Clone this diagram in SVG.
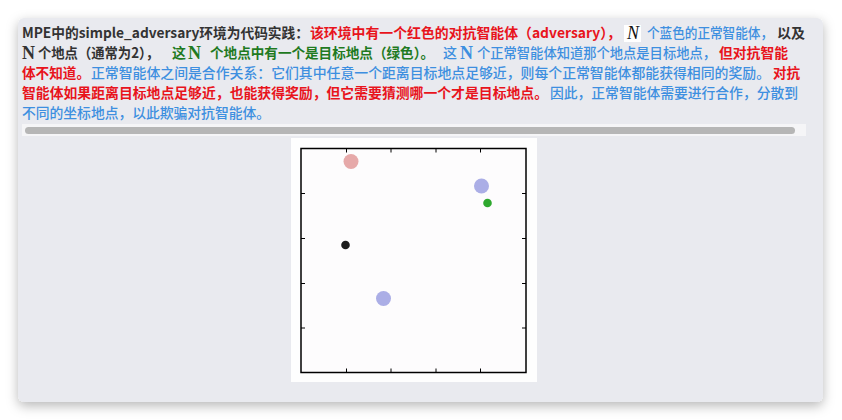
<svg xmlns="http://www.w3.org/2000/svg" width="842" height="420" viewBox="0 0 842 420">
<defs>
<filter id="sh" x="-10%" y="-10%" width="120%" height="130%">
<feDropShadow dx="0" dy="4" stdDeviation="6" flood-color="#000" flood-opacity="0.28"/>
</filter>
<clipPath id="tc"><rect x="18" y="18" width="789" height="110"/></clipPath>
<style>
.t{font-family:"Noto Sans CJK SC","Noto Sans",sans-serif;font-size:14px;}
.dk{fill:#333;font-weight:bold;}
.rd{fill:#e8141c;font-weight:bold;}
.gr{fill:#1f7a1f;font-weight:bold;}
.bl{fill:#3d8fe0;font-weight:500;}
.m{font-family:"Liberation Serif","DejaVu Serif",serif;font-size:18px;fill:#111;}
.mb{font-family:"Liberation Serif","DejaVu Serif",serif;font-size:18px;font-weight:bold;}
.tick{stroke:#000;stroke-width:1;}
</style>
</defs>
<rect width="842" height="420" fill="#fff"/>
<g id="card">
<rect x="18" y="18" width="805" height="384" rx="6" fill="#e9eaef" filter="url(#sh)"/>
</g>
<g id="text" clip-path="url(#tc)">
<text class="t dk" x="22" y="38" textLength="287" lengthAdjust="spacingAndGlyphs">MPE中的simple_adversary环境为代码实践：</text>
<text class="t rd" x="310" y="38" textLength="311" lengthAdjust="spacingAndGlyphs">该环境中有一个红色的对抗智能体（adversary），</text>
<rect x="624" y="25" width="17" height="17" fill="#fff"/>
<text class="m" x="627" y="39" font-style="italic">N</text>
<text class="t bl" x="647" y="38" textLength="126" lengthAdjust="spacingAndGlyphs">个蓝色的正常智能体，</text>
<text class="t dk" x="777" y="38" textLength="28" lengthAdjust="spacingAndGlyphs">以及</text>

<text class="mb" x="22" y="59" fill="#333">N</text>
<text class="t dk" x="38" y="58" textLength="121" lengthAdjust="spacingAndGlyphs">个地点（通常为2），</text>
<text class="t gr" x="172" y="58">这</text>
<text class="mb" x="188" y="59" fill="#1f7a1f">N</text>
<text class="t gr" x="210" y="58" textLength="224" lengthAdjust="spacingAndGlyphs">个地点中有一个是目标地点（绿色）。</text>
<text class="t bl" x="443" y="58">这</text>
<text class="mb" x="460" y="59" fill="#3d8fe0">N</text>
<text class="t bl" x="477" y="58" textLength="239" lengthAdjust="spacingAndGlyphs">个正常智能体知道那个地点是目标地点，</text>
<text class="t rd" x="719" y="58" textLength="69" lengthAdjust="spacingAndGlyphs">但对抗智能</text>

<text class="t rd" x="22" y="78" textLength="68" lengthAdjust="spacingAndGlyphs">体不知道。</text>
<text class="t bl" x="91" y="78" textLength="679" lengthAdjust="spacingAndGlyphs">正常智能体之间是合作关系：它们其中任意一个距离目标地点足够近，则每个正常智能体都能获得相同的奖励。</text>
<text class="t rd" x="773" y="78" textLength="27" lengthAdjust="spacingAndGlyphs">对抗</text>

<text class="t rd" x="22" y="98" textLength="526" lengthAdjust="spacingAndGlyphs">智能体如果距离目标地点足够近，也能获得奖励，但它需要猜测哪一个才是目标地点。</text>
<text class="t bl" x="550" y="98" textLength="248" lengthAdjust="spacingAndGlyphs">因此，正常智能体需要进行合作，分散到</text>

<text class="t bl" x="22" y="118" textLength="248" lengthAdjust="spacingAndGlyphs">不同的坐标地点，以此欺骗对抗智能体。</text>
</g>
<g id="scrollbar">
<rect x="22" y="124" width="784" height="12" fill="#f5f5f7"/>
<rect x="25" y="127" width="770" height="7" rx="3.5" fill="#b6b6b6"/>
</g>
<g id="plot">
<rect x="291" y="138" width="246" height="244" fill="#fefefe"/>
<rect x="301" y="148.5" width="225" height="224" fill="#fdfcfd" stroke="#000" stroke-width="1.5"/>
<g class="tick">
<line x1="346.5" y1="148.5" x2="346.5" y2="152.5"/><line x1="391" y1="148.5" x2="391" y2="152.5"/><line x1="436" y1="148.5" x2="436" y2="152.5"/><line x1="480.5" y1="148.5" x2="480.5" y2="152.5"/>
<line x1="346.5" y1="372.5" x2="346.5" y2="368.5"/><line x1="391" y1="372.5" x2="391" y2="368.5"/><line x1="436" y1="372.5" x2="436" y2="368.5"/><line x1="480.5" y1="372.5" x2="480.5" y2="368.5"/>
<line x1="301" y1="193.5" x2="305" y2="193.5"/><line x1="301" y1="238.5" x2="305" y2="238.5"/><line x1="301" y1="283.5" x2="305" y2="283.5"/><line x1="301" y1="328" x2="305" y2="328"/>
<line x1="526" y1="193.5" x2="522" y2="193.5"/><line x1="526" y1="238.5" x2="522" y2="238.5"/><line x1="526" y1="283.5" x2="522" y2="283.5"/><line x1="526" y1="328" x2="522" y2="328"/>
</g>
<circle id="adversary" cx="351" cy="161.5" r="7.5" fill="#e6a9a9"/>
<circle id="agent1" cx="481.5" cy="186" r="7.5" fill="#abaee6"/>
<circle id="goal" cx="487.5" cy="203" r="4.3" fill="#2ea82e"/>
<circle id="landmark" cx="345.5" cy="245" r="4.3" fill="#1c1c1c"/>
<circle id="agent2" cx="383.5" cy="298.5" r="7.5" fill="#abaee6"/>
</g>
</svg>
